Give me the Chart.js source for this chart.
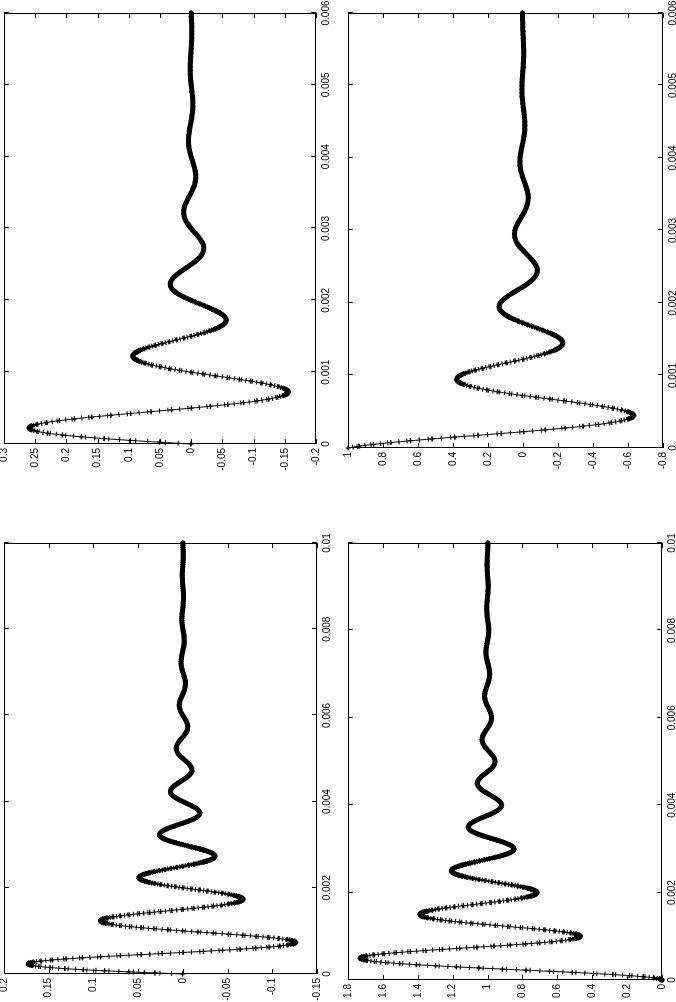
<!DOCTYPE html>
<html>
<head>
<meta charset="utf-8">
<script src="https://cdn.jsdelivr.net/npm/chart.js@4.4.1/dist/chart.umd.min.js"></script>
<style>
  html, body { margin: 0; padding: 0; background: #fff; overflow: hidden; }
  #page { position: relative; width: 676px; height: 1002px; overflow: hidden; background: #fff; }
  canvas { position: absolute; transform-origin: 0 0; }
</style>
</head>
<body>
<div id="page">
  <canvas id="tl"></canvas>
  <canvas id="tr"></canvas>
  <canvas id="bl"></canvas>
  <canvas id="br"></canvas>
</div>
<script>
// samples every 50 microseconds from t = 0; the "Mid" lists hold the extra
// samples halfway between them over the fast first part of each curve
const sampleStep = 0.00005;

// top left: 0 .. 0.006 s
const tlValues = [
  0, 0.0972, 0.1757, 0.2297, 0.2566, 0.2564, 0.2317, 0.1873, 0.1293, 0.0646,
  0, -0.0583, -0.1054, -0.1378, -0.1539, -0.1538, -0.1390, -0.1123, -0.0776, -0.0387,
  0, 0.0350, 0.0632, 0.0827, 0.0924, 0.0923, 0.0834, 0.0674, 0.0465, 0.0232,
  0, -0.0210, -0.0379, -0.0496, -0.0554, -0.0553, -0.0500, -0.0404, -0.0279, -0.0139,
  0, 0.0126, 0.0228, 0.0298, 0.0332, 0.0332, 0.0300, 0.0243, 0.0167, 0.0084,
  0, -0.0076, -0.0137, -0.0179, -0.0199, -0.0199, -0.0180, -0.0146, -0.0100, -0.0050,
  0, 0.0045, 0.0082, 0.0107, 0.0120, 0.0119, 0.0108, 0.0087, 0.0060, 0.0030,
  0, -0.0027, -0.0049, -0.0064, -0.0072, -0.0072, -0.0065, -0.0052, -0.0036, -0.0018,
  0, 0.0016, 0.0030, 0.0039, 0.0043, 0.0043, 0.0039, 0.0031, 0.0022, 0.0011,
  0, -0.0010, -0.0018, -0.0023, -0.0026, -0.0026, -0.0023, -0.0019, -0.0013, -0.0007,
  0, 0.0006, 0.0011, 0.0014, 0.0015, 0.0015, 0.0014, 0.0011, 0.0008, 0.0004,
  0, -0.0003, -0.0006, -0.0008, -0.0009, -0.0009, -0.0008, -0.0007, -0.0005, -0.0002,
  0
];
const tlMidValues = [
  0.0505, 0.1392, 0.2060, 0.2466, 0.2598, 0.2468, 0.2116, 0.1595, 0.0973, 0.0319,
  -0.0303, -0.0835, -0.1236, -0.1480, -0.1558, -0.1481, -0.1269, -0.0957, -0.0584, -0.0191,
  0.0182, 0.0501, 0.0741, 0.0888, 0.0935, 0.0888, 0.0761, 0.0574, 0.0350, 0.0115,
  -0.0109, -0.0301, -0.0445, -0.0532, -0.0561, -0.0533, -0.0457, -0.0344, -0.0210, -0.0069
];
const tlTimeTicks = [0, 0.001, 0.002, 0.003, 0.004, 0.005, 0.006];
const tlValueTicks = [-0.2, -0.15, -0.1, -0.05, 0, 0.05, 0.1, 0.15, 0.2, 0.25, 0.3];

// top right: 0 .. 0.006 s, starts at 1
const trValues = [
  1, 0.8559, 0.6440, 0.3911, 0.1255, -0.1262, -0.3415, -0.5033, -0.6012, -0.6322,
  -0.5999, -0.5135, -0.3863, -0.2346, -0.0753, 0.0757, 0.2049, 0.3019, 0.3607, 0.3793,
  0.3599, 0.3080, 0.2318, 0.1408, 0.0452, -0.0454, -0.1229, -0.1811, -0.2164, -0.2275,
  -0.2159, -0.1848, -0.1390, -0.0844, -0.0271, 0.0272, 0.0737, 0.1087, 0.1298, 0.1365,
  0.1295, 0.1108, 0.0834, 0.0506, 0.0163, -0.0163, -0.0442, -0.0652, -0.0779, -0.0819,
  -0.0777, -0.0665, -0.0500, -0.0304, -0.0098, 0.0098, 0.0265, 0.0391, 0.0467, 0.0491,
  0.0466, 0.0399, 0.0300, 0.0182, 0.0058, -0.0059, -0.0159, -0.0235, -0.0280, -0.0295,
  -0.0280, -0.0240, -0.0180, -0.0110, -0.0035, 0.0035, 0.0096, 0.0141, 0.0168, 0.0177,
  0.0168, 0.0144, 0.0108, 0.0066, 0.0021, -0.0021, -0.0057, -0.0085, -0.0101, -0.0106,
  -0.0101, -0.0086, -0.0065, -0.0040, -0.0013, 0.0013, 0.0034, 0.0051, 0.0061, 0.0064,
  0.0060, 0.0051, 0.0039, 0.0023, 0.0008, -0.0008, -0.0020, -0.0030, -0.0036, -0.0038,
  -0.0036, -0.0031, -0.0023, -0.0014, -0.0005, 0.0005, 0.0012, 0.0018, 0.0022, 0.0023,
  0.0022
];
const trMidValues = [
  0.9379, 0.7567, 0.5209, 0.2582, -0.0037, -0.2396, -0.4298, -0.5606, -0.6251, -0.6235,
  -0.5627, -0.4540, -0.3125, -0.1549, 0.0022, 0.1438, 0.2579, 0.3363, 0.3750, 0.3740,
  0.3376, 0.2723, 0.1875, 0.0929, -0.0013, -0.0862, -0.1547, -0.2018, -0.2250, -0.2244,
  -0.2025, -0.1634, -0.1125, -0.0558, 0.0008, 0.0517, 0.0928, 0.1210, 0.1350, 0.1346
];
const trTimeTicks = [0, 0.001, 0.002, 0.003, 0.004, 0.005, 0.006];
const trValueTicks = [-0.8, -0.6, -0.4, -0.2, 0, 0.2, 0.4, 0.6, 0.8, 1];

// bottom left: 0 .. 0.01 s
const blValues = [
  0, 0.0603, 0.1112, 0.1483, 0.1690, 0.1722, 0.1587, 0.1308, 0.0921, 0.0469,
  0, -0.0441, -0.0812, -0.1083, -0.1234, -0.1257, -0.1159, -0.0955, -0.0672, -0.0343,
  0, 0.0322, 0.0593, 0.0791, 0.0901, 0.0918, 0.0846, 0.0697, 0.0491, 0.0250,
  0, -0.0235, -0.0433, -0.0577, -0.0658, -0.0670, -0.0618, -0.0509, -0.0358, -0.0183,
  0, 0.0171, 0.0316, 0.0421, 0.0480, 0.0489, 0.0451, 0.0372, 0.0262, 0.0133,
  0, -0.0125, -0.0231, -0.0308, -0.0351, -0.0357, -0.0329, -0.0271, -0.0191, -0.0097,
  0, 0.0091, 0.0168, 0.0225, 0.0256, 0.0261, 0.0240, 0.0198, 0.0139, 0.0071,
  0, -0.0067, -0.0123, -0.0164, -0.0187, -0.0190, -0.0175, -0.0145, -0.0102, -0.0052,
  0, 0.0049, 0.0090, 0.0120, 0.0136, 0.0139, 0.0128, 0.0106, 0.0074, 0.0038,
  0, -0.0036, -0.0066, -0.0087, -0.0100, -0.0101, -0.0094, -0.0077, -0.0054, -0.0028,
  0, 0.0026, 0.0048, 0.0064, 0.0073, 0.0074, 0.0068, 0.0056, 0.0040, 0.0020,
  0, -0.0019, -0.0035, -0.0047, -0.0053, -0.0054, -0.0050, -0.0041, -0.0029, -0.0015,
  0, 0.0014, 0.0026, 0.0034, 0.0039, 0.0039, 0.0036, 0.0030, 0.0021, 0.0011,
  0, -0.0010, -0.0019, -0.0025, -0.0028, -0.0029, -0.0027, -0.0022, -0.0015, -0.0008,
  0, 0.0007, 0.0014, 0.0018, 0.0021, 0.0021, 0.0019, 0.0016, 0.0011, 0.0006,
  0, -0.0005, -0.0010, -0.0013, -0.0015, -0.0015, -0.0014, -0.0012, -0.0008, -0.0004,
  0, 0.0004, 0.0007, 0.0010, 0.0011, 0.0011, 0.0010, 0.0009, 0.0006, 0.0003,
  0, -0.0003, -0.0005, -0.0007, -0.0008, -0.0008, -0.0008, -0.0006, -0.0004, -0.0002,
  0, 0.0002, 0.0004, 0.0005, 0.0006, 0.0006, 0.0006, 0.0005, 0.0003, 0.0002,
  0, -0.0002, -0.0003, -0.0004, -0.0004, -0.0004, -0.0004, -0.0003, -0.0002, -0.0001,
  0
];
const blMidValues = [
  0.0310, 0.0873, 0.1317, 0.1608, 0.1728, 0.1674, 0.1463, 0.1125, 0.0700, 0.0234,
  -0.0227, -0.0637, -0.0962, -0.1174, -0.1261, -0.1222, -0.1068, -0.0822, -0.0511, -0.0171,
  0.0165, 0.0465, 0.0702, 0.0857, 0.0921, 0.0892, 0.0780, 0.0600, 0.0373, 0.0125,
  -0.0121, -0.0340, -0.0513, -0.0626, -0.0672, -0.0652, -0.0570, -0.0438, -0.0273, -0.0091,
  0.0088, 0.0248, 0.0374, 0.0457, 0.0491, 0.0476, 0.0416, 0.0320, 0.0199, 0.0066,
  -0.0064, -0.0181, -0.0273, -0.0334, -0.0358, -0.0347, -0.0304, -0.0233, -0.0145, -0.0049
];
const blTimeTicks = [0, 0.002, 0.004, 0.006, 0.008, 0.01];
const blValueTicks = [-0.15, -0.1, -0.05, 0, 0.05, 0.1, 0.15, 0.2];

// bottom right: step response, 0 .. 0.01 s, settles at 1
const brValues = [
  0, 0.0484, 0.1851, 0.3915, 0.6437, 0.9145, 1.1771, 1.4067, 1.5833, 1.6934,
  1.7301, 1.6948, 1.5950, 1.4443, 1.2601, 1.0624, 0.8707, 0.7031, 0.5741, 0.4937,
  0.4670, 0.4927, 0.5656, 0.6756, 0.8101, 0.9545, 1.0944, 1.2168, 1.3109, 1.3696,
  1.3892, 1.3703, 1.3171, 1.2368, 1.1387, 1.0333, 0.9311, 0.8417, 0.7730, 0.7301,
  0.7159, 0.7296, 0.7685, 0.8271, 0.8988, 0.9757, 1.0503, 1.1156, 1.1657, 1.1970,
  1.2075, 1.1974, 1.1691, 1.1262, 1.0739, 1.0177, 0.9633, 0.9156, 0.8790, 0.8562,
  0.8485, 0.8559, 0.8766, 0.9078, 0.9460, 0.9871, 1.0268, 1.0616, 1.0883, 1.1050,
  1.1106, 1.1052, 1.0901, 1.0673, 1.0394, 1.0094, 0.9804, 0.9550, 0.9355, 0.9233,
  0.9193, 0.9232, 0.9342, 0.9509, 0.9712, 0.9931, 1.0143, 1.0328, 1.0471, 1.0560,
  1.0590, 1.0561, 1.0480, 1.0359, 1.0210, 1.0050, 0.9896, 0.9760, 0.9656, 0.9591,
  0.9570, 0.9590, 0.9649, 0.9738, 0.9847, 0.9963, 1.0076, 1.0175, 1.0251, 1.0298,
  1.0314, 1.0299, 1.0256, 1.0191, 1.0112, 1.0027, 0.9944, 0.9872, 0.9817, 0.9782,
  0.9771, 0.9782, 0.9813, 0.9860, 0.9918, 0.9980, 1.0041, 1.0093, 1.0134, 1.0159,
  1.0168, 1.0159, 1.0136, 1.0102, 1.0060, 1.0014, 0.9970, 0.9932, 0.9902, 0.9884,
  0.9878, 0.9884, 0.9900, 0.9926, 0.9956, 0.9990, 1.0022, 1.0050, 1.0071, 1.0085,
  1.0089, 1.0085, 1.0073, 1.0054, 1.0032, 1.0008, 0.9984, 0.9964, 0.9948, 0.9938,
  0.9935, 0.9938, 0.9947, 0.9960, 0.9977, 0.9994, 1.0012, 1.0027, 1.0038, 1.0045,
  1.0048, 1.0045, 1.0039, 1.0029, 1.0017, 1.0004, 0.9992, 0.9981, 0.9972, 0.9967,
  0.9965, 0.9967, 0.9972, 0.9979, 0.9988, 0.9997, 1.0006, 1.0014, 1.0020, 1.0024,
  1.0025, 1.0024, 1.0021, 1.0015, 1.0009, 1.0002, 0.9996, 0.9990, 0.9985, 0.9982,
  0.9981
];
const brMidValues = [
  0.0124, 0.1068, 0.2810, 0.5135, 0.7785, 1.0485, 1.2974, 1.5027, 1.6472, 1.7211,
  1.7211, 1.6521, 1.5249, 1.3552, 1.1617, 0.9646, 0.7829, 0.6330, 0.5275, 0.4736,
  0.4735, 0.5239, 0.6168, 0.7407, 0.8819, 1.0258, 1.1585, 1.2680, 1.3450, 1.3844,
  1.3844, 1.3476, 1.2798, 1.1893, 1.0862, 0.9811, 0.8843, 0.8044, 0.7481, 0.7194,
  0.7194, 0.7462, 0.7957, 0.8618, 0.9371, 1.0138, 1.0845, 1.1428, 1.1839, 1.2049,
  1.2049, 1.1853, 1.1492, 1.1009, 1.0460, 0.9900, 0.9383, 0.8957, 0.8657, 0.8504
];
const brTimeTicks = [0, 0.002, 0.004, 0.006, 0.008, 0.01];
const brValueTicks = [0, 0.2, 0.4, 0.6, 0.8, 1, 1.2, 1.4, 1.6, 1.8];

const FONT = { family: "'Liberation Sans', Arial, Helvetica, sans-serif", size: 10 };

// each canvas is drawn landscape, then turned a quarter turn to the left
const panels = [
  { id: "tl", values: tlValues, mids: tlMidValues, timeTicks: tlTimeTicks, valueTicks: tlValueTicks,
    left: 0, top: 0, w: 480, h: 338, axisW: 36, axisH: 22, padRight: 13, padTop: 4 },
  { id: "tr", values: trValues, mids: trMidValues, timeTicks: trTimeTicks, valueTicks: trValueTicks,
    left: 340, top: 0, w: 480, h: 338, axisW: 32, axisH: 15, padRight: 13, padTop: 8 },
  { id: "bl", values: blValues, mids: blMidValues, timeTicks: blTimeTicks, valueTicks: blValueTicks,
    left: 0, top: 500, w: 502, h: 338, axisW: 28, axisH: 21, padRight: 43, padTop: 4 },
  { id: "br", values: brValues, mids: brMidValues, timeTicks: brTimeTicks, valueTicks: brValueTicks,
    left: 340, top: 500, w: 502, h: 338, axisW: 22, axisH: 16, padRight: 43, padTop: 8 },
];

// gnuplot style frame with inward ticks on all four sides
const framePlugin = {
  id: "frame",
  afterDraw(chart) {
    const { ctx, chartArea: a, scales } = chart;
    const len = 5;
    ctx.save();
    ctx.strokeStyle = "#000";
    ctx.lineWidth = 1;
    ctx.beginPath();
    scales.x.ticks.forEach(t => {
      const px = Math.round(scales.x.getPixelForValue(t.value)) + 0.5;
      ctx.moveTo(px, a.top); ctx.lineTo(px, a.top + len);
      ctx.moveTo(px, a.bottom); ctx.lineTo(px, a.bottom - len);
    });
    scales.y.ticks.forEach(t => {
      const py = Math.round(scales.y.getPixelForValue(t.value)) + 0.5;
      ctx.moveTo(a.left, py); ctx.lineTo(a.left + len, py);
      ctx.moveTo(a.right, py); ctx.lineTo(a.right - len, py);
    });
    ctx.stroke();
    ctx.strokeRect(a.left + 0.5, a.top + 0.5, a.right - a.left - 1, a.bottom - a.top - 1);
    ctx.restore();
  }
};

panels.forEach(p => {
  const canvas = document.getElementById(p.id);
  canvas.width = p.w;
  canvas.height = p.h;
  canvas.style.width = p.w + "px";
  canvas.style.height = p.h + "px";
  canvas.style.left = p.left + "px";
  canvas.style.top = p.top + "px";
  canvas.style.transform = "translate(0px, " + p.w + "px) rotate(-90deg)";

  const xMax = p.timeTicks[p.timeTicks.length - 1];
  const yMin = p.valueTicks[0];
  const yMax = p.valueTicks[p.valueTicks.length - 1];

  const points = [];
  p.values.forEach((v, i) => {
    points.push({ x: i * sampleStep, y: v });
    if (i < p.mids.length) points.push({ x: (i + 0.5) * sampleStep, y: p.mids[i] });
  });

  // the original plot puts a "+" every 10 microseconds: where those crowd
  // together they merge into a solid band, where they spread out they leave
  // a thin trail with cross bars; gap = distance between two of them in px
  const gapOf = c => {
    const dt = points[c.p1DataIndex].x - points[c.p0DataIndex].x;
    return Math.hypot(c.p1.x - c.p0.x, c.p1.y - c.p0.y) * 0.00001 / dt;
  };
  const bandWidth = c => {
    const g = gapOf(c);
    if (g <= 1.5) return 5;
    if (g >= 3) return 1;
    return 5 - (g - 1.5) * 4 / 1.5;
  };

  new Chart(canvas, {
    type: "line",
    data: {
      datasets: [{
        data: points,
        borderColor: "#000",
        borderWidth: 5,
        borderCapStyle: "round",
        borderJoinStyle: "round",
        tension: 0.3,
        fill: false,
        pointStyle: "cross",
        pointRadius: 2.5,
        pointBorderWidth: 1,
        pointBorderColor: "#000",
        pointBackgroundColor: "#000",
        clip: 4,
        segment: { borderWidth: bandWidth }
      }, {
        // cross bars of the densely placed "+" marks along the fast stretches
        data: points,
        borderColor: "#000",
        borderWidth: 5,
        borderCapStyle: "butt",
        tension: 0.3,
        fill: false,
        pointRadius: 0,
        clip: 4,
        segment: {
          borderColor: c => gapOf(c) > 1.5 ? "#000" : "rgba(0,0,0,0)",
          borderDash: c => [1, Math.max(gapOf(c) - 1, 0.5)]
        }
      }]
    },
    options: {
      responsive: false,
      devicePixelRatio: 1,
      animation: false,
      events: [],
      layout: { autoPadding: false, padding: { left: 0, right: p.padRight, top: p.padTop, bottom: 0 } },
      plugins: { legend: { display: false }, tooltip: { enabled: false } },
      scales: {
        x: {
          type: "linear",
          min: 0,
          max: xMax,
          grid: { display: false, drawTicks: false, tickLength: 0 },
          border: { display: false },
          afterBuildTicks: s => { s.ticks = p.timeTicks.map(v => ({ value: v })); },
          afterFit: s => { s.height = p.axisH; s.paddingLeft = 0; s.paddingRight = 0; },
          ticks: { color: "#000", font: FONT, padding: 4, maxRotation: 0, minRotation: 0,
                   autoSkip: false, callback: v => String(v) }
        },
        y: {
          type: "linear",
          min: yMin,
          max: yMax,
          grid: { display: false, drawTicks: false, tickLength: 0 },
          border: { display: false },
          afterBuildTicks: s => { s.ticks = p.valueTicks.map(v => ({ value: v })); },
          afterFit: s => { s.width = p.axisW; s.paddingTop = 0; s.paddingBottom = 0; },
          ticks: { color: "#000", font: FONT, padding: 4, autoSkip: false,
                   callback: v => String(v) }
        }
      }
    },
    plugins: [framePlugin]
  });
});
</script>
</body>
</html>
